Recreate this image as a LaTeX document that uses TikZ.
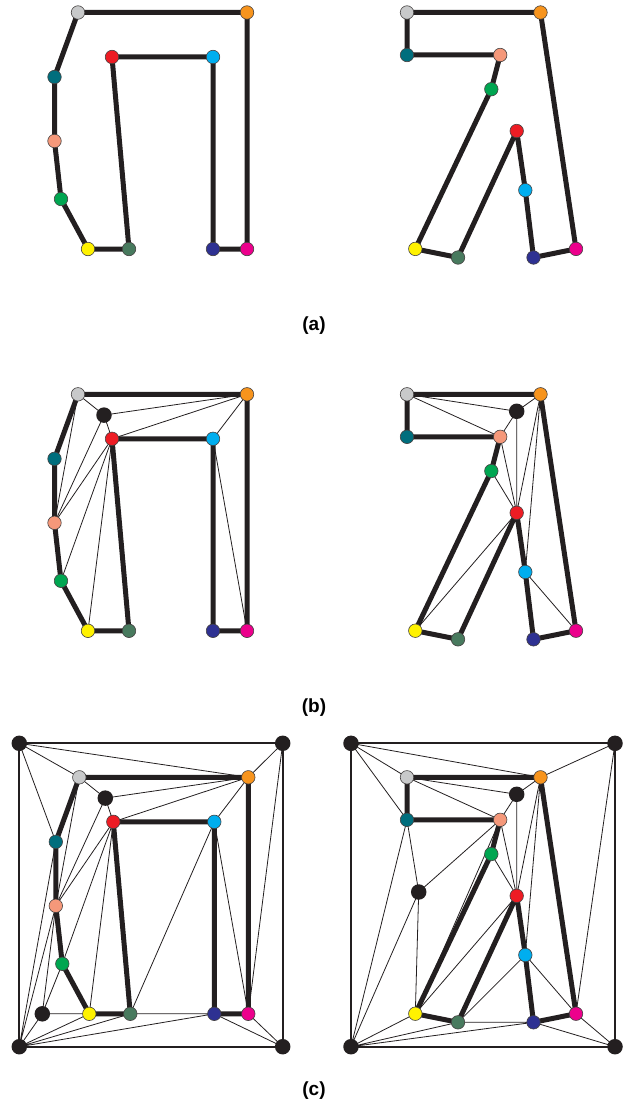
\documentclass[tikz,border=0pt]{standalone}
\usepackage{fontspec}
\setmainfont{Liberation Sans}
\usetikzlibrary{backgrounds}

\definecolor{cgray}{RGB}{200,201,202}
\definecolor{corange}{RGB}{247,148,29}
\definecolor{cred}{RGB}{237,28,36}
\definecolor{ccyan}{RGB}{0,174,239}
\definecolor{cteal}{RGB}{0,110,125}
\definecolor{csalmon}{RGB}{245,152,122}
\definecolor{cgreen}{RGB}{0,166,81}
\definecolor{cyellow}{RGB}{255,242,0}
\definecolor{cdkgreen}{RGB}{72,122,94}
\definecolor{cnavy}{RGB}{46,49,146}
\definecolor{cmagenta}{RGB}{236,0,140}
\definecolor{cblack}{RGB}{35,31,32}

\tikzset{
  pt/.style={circle,draw=cblack!85,line width=0.6pt,inner sep=0pt,minimum size=13.5pt},
  steiner/.style={circle,fill=cblack,inner sep=0pt,minimum size=15.5pt},
  stroke/.style={line width=5pt,cblack,line join=round},
  diag/.style={line width=0.8pt,cblack},
  frame/.style={line width=2pt,cblack},
  caption/.style={font=\bfseries\fontsize{19}{22}\selectfont},
}

% letter heth: 11 outline points
\newcommand{\hetletter}[1]{%
  \node[pt,fill=cgray] (#1gray) at (78,0) {};
  \node[pt,fill=corange] (#1orange) at (247,0) {};
  \node[pt,fill=cred] (#1red) at (112,44.5) {};
  \node[pt,fill=ccyan] (#1cyan) at (213,44.5) {};
  \node[pt,fill=cteal] (#1teal) at (54.5,64.5) {};
  \node[pt,fill=csalmon] (#1salmon) at (54.5,128.5) {};
  \node[pt,fill=cgreen] (#1green) at (61,186.5) {};
  \node[pt,fill=cyellow] (#1yellow) at (88,236.5) {};
  \node[pt,fill=cdkgreen] (#1dkgreen) at (129,236.5) {};
  \node[pt,fill=cnavy] (#1navy) at (213,236.5) {};
  \node[pt,fill=cmagenta] (#1magenta) at (247,236.5) {};
}
% letter gimel: 11 outline points
\newcommand{\gimelletter}[1]{%
  \node[pt,fill=cgray] (#1gray) at (407,0) {};
  \node[pt,fill=corange] (#1orange) at (540.5,0) {};
  \node[pt,fill=cteal] (#1teal) at (407,42.5) {};
  \node[pt,fill=csalmon] (#1salmon) at (500.2,42.5) {};
  \node[pt,fill=cgreen] (#1green) at (491.3,76.7) {};
  \node[pt,fill=cred] (#1red) at (516.7,118.5) {};
  \node[pt,fill=ccyan] (#1cyan) at (525.3,177.7) {};
  \node[pt,fill=cyellow] (#1yellow) at (415.3,236.4) {};
  \node[pt,fill=cdkgreen] (#1dkgreen) at (458,245) {};
  \node[pt,fill=cnavy] (#1navy) at (533.5,245) {};
  \node[pt,fill=cmagenta] (#1magenta) at (576,236.4) {};
}
\newcommand{\glyphoutline}[1]{%
  \draw[stroke] (#1gray.center) -- (#1orange.center) -- (#1magenta.center)
    -- (#1navy.center) -- (#1cyan.center) -- (#1red.center) -- (#1dkgreen.center)
    -- (#1yellow.center) -- (#1green.center) -- (#1salmon.center) -- (#1teal.center) -- cycle;
}
\newcommand{\hetdiags}[1]{%
  \draw[diag] (#1gray.center) -- (#1in.center) -- (#1orange.center)
    (#1in.center) -- (#1red.center) -- (#1orange.center) -- (#1cyan.center) -- (#1magenta.center)
    (#1in.center) -- (#1salmon.center) -- (#1gray.center)
    (#1salmon.center) -- (#1red.center) -- (#1green.center)
    (#1red.center) -- (#1yellow.center);
}
\newcommand{\gimeldiags}[1]{%
  \draw[diag] (#1gray.center) -- (#1in.center) -- (#1orange.center)
    (#1gray.center) -- (#1salmon.center) -- (#1in.center) -- (#1red.center)
    (#1salmon.center) -- (#1red.center) -- (#1green.center)
    (#1orange.center) -- (#1red.center) -- (#1yellow.center)
    (#1orange.center) -- (#1cyan.center) -- (#1magenta.center);
}
\newcommand{\corners}[3]{% prefix, left x, right x
  \node[steiner] (#1TL) at (#2,-34) {};
  \node[steiner] (#1TR) at (#3,-34) {};
  \node[steiner] (#1BR) at (#3,269.4) {};
  \node[steiner] (#1BL) at (#2,269.4) {};
}

\begin{document}
\begin{tikzpicture}[x=1pt,y=-1pt]
\useasboundingbox (0,0) rectangle (628,1108);

% (a) outlines only
\begin{scope}[yshift=-12.5pt]
  \hetletter{La}
  \gimelletter{Ra}
\end{scope}

% (b) constrained triangulations
\begin{scope}[yshift=-394.3pt]
  \hetletter{Lb}
  \node[steiner] (Lbin) at (104,20.8) {};
  \gimelletter{Rb}
  \node[steiner] (Rbin) at (516.7,17) {};
\end{scope}

% (c) with bounding box
\begin{scope}[yshift=-777.3pt,xshift=1.3pt]
  \hetletter{Lc}
  \node[steiner] (Lcin) at (104,20.8) {};
  \node[steiner] (Lcout) at (41,236.5) {};
  \corners{Lc}{18}{281.4}
\end{scope}
\begin{scope}[yshift=-777.3pt]
  \gimelletter{Rc}
  \node[steiner] (Rcin) at (516.7,17) {};
  \node[steiner] (Rcout) at (418.7,114.7) {};
  \corners{Rc}{351}{615}
\end{scope}

\begin{pgfonlayer}{background}
  \hetdiags{Lb}
  \gimeldiags{Rb}
  \hetdiags{Lc}
  \gimeldiags{Rc}
  % outside of heth
  \draw[diag] (LcTL.center) -- (Lcorange.center) -- (LcTR.center) -- (Lcmagenta.center) -- (LcBR.center) -- (Lcnavy.center) -- (Lcdkgreen.center) -- (Lccyan.center)
    (LcTL.center) -- (Lcgray.center) (LcTL.center) -- (Lcteal.center) -- (LcBL.center) -- (Lcsalmon.center) -- (Lcout.center) -- (Lcgreen.center)
    (LcBL.center) -- (Lcout.center) -- (Lcyellow.center) -- (LcBL.center) -- (Lcdkgreen.center)
    (LcBL.center) -- (Lcnavy.center);
  % outside of gimel
  \draw[diag] (RcTL.center) -- (Rcorange.center) -- (RcTR.center) -- (Rcmagenta.center) -- (RcBR.center) -- (Rcnavy.center) -- (Rcdkgreen.center) -- (Rccyan.center)
    (RcTL.center) -- (Rcgray.center) (RcTL.center) -- (Rcteal.center) -- (RcBL.center) -- (Rcout.center) -- (Rcteal.center)
    (Rcout.center) -- (Rcsalmon.center) -- (Rcyellow.center) -- (Rcout.center)
    (RcBL.center) -- (Rcyellow.center) (RcBL.center) -- (Rcdkgreen.center)
    (RcBL.center) -- (Rcnavy.center);
  \draw[frame] (LcTL.center) -- (LcTR.center) -- (LcBR.center) -- (LcBL.center) -- cycle;
  \draw[frame] (RcTL.center) -- (RcTR.center) -- (RcBR.center) -- (RcBL.center) -- cycle;
  \glyphoutline{La}
  \glyphoutline{Ra}
  \glyphoutline{Lb}
  \glyphoutline{Rb}
  \glyphoutline{Lc}
  \glyphoutline{Rc}
\end{pgfonlayer}

\node[caption] (capa) at (314,326) {(a)};
\node[caption] (capb) at (314,708) {(b)};
\node[caption] (capc) at (314,1091) {(c)};
\end{tikzpicture}
\end{document}
